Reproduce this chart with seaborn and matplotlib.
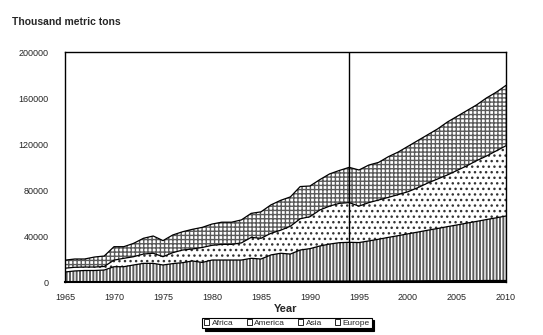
import numpy as np
import pandas as pd
import matplotlib
matplotlib.use("Agg")
import matplotlib.pyplot as plt
import seaborn as sns
from matplotlib.patches import Patch

years = list(range(1965, 2011))
africa = [300, 300, 300, 300, 300, 400, 400, 400, 400, 400, 400, 500, 500, 500, 500, 500,
          500, 500, 600, 600, 600, 600, 700, 700, 700, 700, 800, 800, 800, 800, 800, 900,
          900, 900, 1000, 1000, 1000, 1100, 1100, 1100, 1200, 1200, 1200, 1300, 1300, 1300]
america = [8400, 9300, 9700, 9700, 10100, 12900, 12900, 14400, 15800, 15800, 14400, 15500,
           16300, 17800, 16500, 18600, 18600, 18600, 18500, 20000, 19400, 22900, 24300, 23600,
           27100, 28300, 30500, 32200, 33400, 33700, 33500, 34800, 36300, 37900, 39300, 40900,
           42400, 43900, 45400, 47000, 48400, 50000, 51500, 53000, 54500, 56100]
asia = [3300, 3200, 3000, 3000, 3100, 5700, 7300, 7200, 8100, 8800, 7200, 9500, 11000, 10400,
        13000, 12800, 13600, 13600, 14900, 18200, 18000, 18800, 20000, 24200, 27200, 27800,
        31300, 33000, 34200, 34500, 31700, 33300, 34100, 34800, 35700, 36600, 38600, 41000,
        43000, 44900, 47400, 49800, 52800, 55200, 58200, 61100]
europe = [7000, 7200, 7000, 8700, 9100, 11700, 10100, 11600, 13700, 15000, 14000, 15400, 15900,
          17100, 17500, 18500, 19300, 19300, 20000, 20900, 23000, 24700, 26000, 25500, 28000,
          26700, 26400, 28000, 28600, 30700, 31400, 32700, 32700, 35400, 37000, 39500, 41000,
          42000, 43500, 46000, 47000, 48000, 48500, 50500, 51000, 52500]
series_names = ["Africa", "America", "Asia", "Europe"]
y_ticks = [0, 40000, 80000, 120000, 160000, 200000]
x_ticks = [1965, 1970, 1975, 1980, 1985, 1990, 1995, 2000, 2005, 2010]
marker_year = 1994

sns.set_style("white")
plt.rcParams["font.family"] = ["Liberation Sans", "DejaVu Sans"]
plt.rcParams["hatch.linewidth"] = 1.0

fig = plt.figure(figsize=(5.43, 3.35), dpi=100)
ax = fig.add_axes([65 / 543, 1 - 282 / 335, (506 - 65) / 543, (282 - 52) / 335])

data = [africa, america, asia, europe]
hatches = ["", "|||||", "...", "++++"]
faces = ["black", "#5c5c5c", "white", "white"]
hcolors = ["black", "white", "#333333", "#5a5a5a"]
polys = ax.stackplot(years, *data, colors=faces, linewidth=0)
for p, h, c in zip(polys, hatches, hcolors):
    p.set_hatch(h)
    p.set_edgecolor(c)
    p.set_linewidth(0)

df = pd.DataFrame({"Year": years})
cum = np.cumsum(np.array(data), axis=0)
for i, name in enumerate(series_names):
    df[name] = cum[i]
    sns.lineplot(data=df, x="Year", y=name, ax=ax, color="black", linewidth=0.9, legend=False)

ax.axvline(marker_year, color="black", linewidth=1.0)

ax.set_xlim(1965, 2010)
ax.set_ylim(0, 200000)
ax.set_xticks(x_ticks)
ax.set_yticks(y_ticks)
ax.set_yticklabels([str(v) for v in y_ticks])
ax.tick_params(axis="both", labelsize=6.5, length=2, direction="in", width=0.8)
ax.tick_params(axis="y", pad=12)
ax.tick_params(axis="x", pad=8)
ax.set_xlabel("Year", fontsize=8, fontweight="bold", labelpad=1)
ax.set_ylabel("")
for s in ax.spines.values():
    s.set_visible(True)
    s.set_color("black")
    s.set_linewidth(1.0)
ax.spines["bottom"].set_linewidth(1.5)

fig.text(12 / 543, 1 - 22 / 335, "Thousand metric tons", fontsize=7.5, fontweight="bold",
         va="center", ha="left")

handles = [Patch(facecolor="white", edgecolor="black", linewidth=0.6) for _ in series_names]
leg = fig.legend(handles, series_names, loc="center", bbox_to_anchor=(287 / 543, 1 - 323 / 335),
                 ncol=4, fontsize=6, frameon=True, fancybox=False, shadow={"color": "black", "alpha": 1},
                 handlelength=0.6, handleheight=0.6, handletextpad=0.3, columnspacing=1.6,
                 borderpad=0.2, edgecolor="black")
leg.get_frame().set_linewidth(0.8)

fig.savefig("out.png", dpi=100)
